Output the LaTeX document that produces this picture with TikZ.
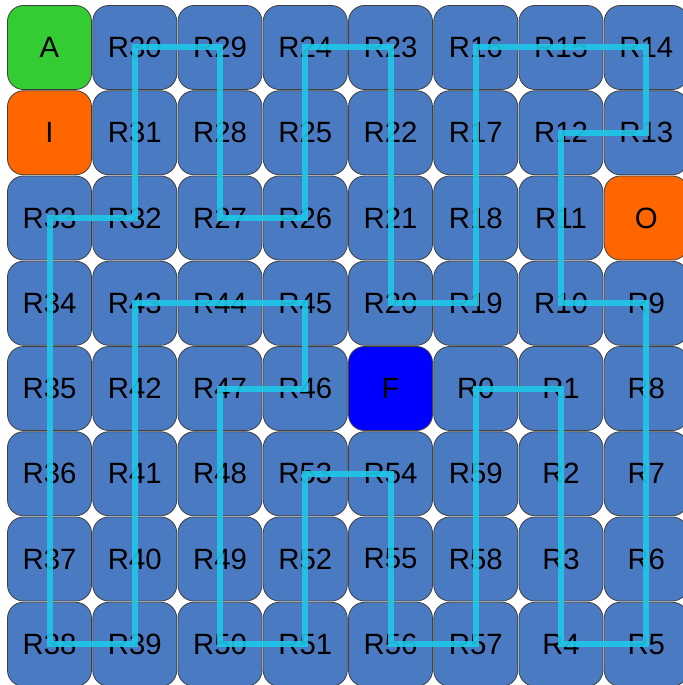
\documentclass[tikz,border=0pt]{standalone}
\usepackage{fontspec}
\setmainfont{Liberation Sans}
\usepackage{xcolor}
\usetikzlibrary{arrows.meta,positioning,calc}
\definecolor{cellblue}{HTML}{4A7BC2}
\definecolor{startgreen}{HTML}{33CC33}
\definecolor{portorange}{HTML}{FF6600}
\definecolor{finishblue}{HTML}{0000FF}
\definecolor{routecyan}{HTML}{1EC8E8}
\tikzset{
	cell/.style={draw=black!75, line width=0.6pt, rounded corners=12pt,
		minimum size=63pt, inner sep=0pt, fill=cellblue,
		font=\fontsize{22}{26}\selectfont},
	kind A/.style={fill=startgreen},
	kind I/.style={fill=portorange},
	kind O/.style={fill=portorange},
	kind F/.style={fill=finishblue},
	route/.style={routecyan, line width=4.5pt, opacity=0.9, line join=miter}
}
\begin{document}
\begin{tikzpicture}[x=0.75pt, y=-0.75pt]
	\useasboundingbox (0,0) rectangle (682,685);
	
	%% -- Grid of cells, row by row
	\foreach \row [count=\r from 0] in {
		{A,R30,R29,R24,R23,R16,R15,R14},
		{I,R31,R28,R25,R22,R17,R12,R13},
		{R33,R32,R27,R26,R21,R18,R11,O},
		{R34,R43,R44,R45,R20,R19,R10,R9},
		{R35,R42,R47,R46,F,R0,R1,R8},
		{R36,R41,R48,R53,R54,R59,R2,R7},
		{R37,R40,R49,R52,R55,R58,R3,R6},
		{R38,R39,R50,R51,R56,R57,R4,R5}}
	{
		\foreach \lab [count=\c from 0] in \row
		{
			\node[cell, kind \lab/.try] (\lab) at ({49.5+85.25*\c},{47.5+85.25*\r}) {\lab};
		}
	}
	
	%% -- Route through R0 ... R59 and back
	\draw[route] (R0.center) \foreach \i in {1,...,59} { -- (R\i.center) } -- cycle;
	
\end{tikzpicture}
\end{document}
